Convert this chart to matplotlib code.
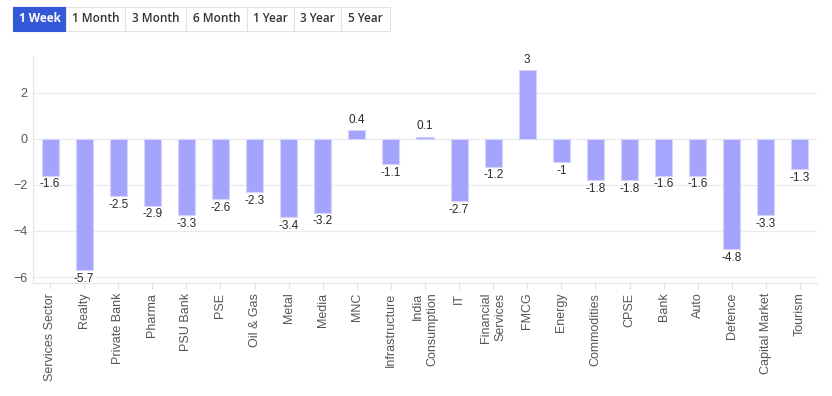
"""Sector index returns, one week."""

import matplotlib.pyplot as plt
from matplotlib.patches import Rectangle

sectors = [
    "Services Sector", "Realty", "Private Bank", "Pharma", "PSU Bank", "PSE",
    "Oil & Gas", "Metal", "Media", "MNC", "Infrastructure", "India\nConsumption",
    "IT", "Financial\nServices", "FMCG", "Energy", "Commodities", "CPSE",
    "Bank", "Auto", "Defence", "Capital Market", "Tourism",
]
returns = [
    -1.6, -5.7, -2.5, -2.9, -3.3, -2.6, -2.3, -3.4, -3.2, 0.4, -1.1, 0.1,
    -2.7, -1.2, 3, -1, -1.8, -1.8, -1.6, -1.6, -4.8, -3.3, -1.3,
]
periods = ["1 Week", "1 Month", "3 Month", "6 Month", "1 Year", "3 Year", "5 Year"]
period_edges = [13, 66, 125, 186, 247, 294, 341, 390]

W, H = 832, 396
fig = plt.figure(figsize=(W / 100, H / 100), dpi=100)
ax = fig.add_axes([33 / W, (H - 283) / H, 784 / W, 227 / H])

x = range(len(sectors))
ax.bar(x, returns, width=0.5, color="#a4a4fc", edgecolor="#d4d4fd", linewidth=0.8, zorder=2)
for i, v in enumerate(returns):
    label = f"{v:g}"
    if v >= 0:
        ax.annotate(label, (i, v), xytext=(0, 3), textcoords="offset points",
                    ha="center", va="bottom", fontsize=8.5, color="#2a2a2a",
                    family="Liberation Sans", zorder=3)
    else:
        ax.annotate(label, (i, v), xytext=(0, -2), textcoords="offset points",
                    ha="center", va="top", fontsize=8.5, color="#2a2a2a",
                    family="Liberation Sans", zorder=3)

ax.set_xlim(-0.5, len(sectors) - 0.5)
ax.set_ylim(-6.26, 3.6)
ax.set_yticks([-6, -4, -2, 0, 2])
ax.set_xticks(list(x))
ax.set_xticklabels(sectors, rotation=90, ha="center", va="top",
                   multialignment="right", family="Liberation Sans",
                   fontsize=9, color="#555555")
for t in ax.get_yticklabels():
    t.set_family("Liberation Sans")
ax.tick_params(axis="y", length=0, labelsize=9, labelcolor="#555555", pad=4)
ax.tick_params(axis="x", length=4, color="#e0e0e0", pad=3)
ax.grid(axis="y", color="#ebebeb", linewidth=0.9, zorder=0)
for s in ["top", "right"]:
    ax.spines[s].set_visible(False)
for s in ["left", "bottom"]:
    ax.spines[s].set_color("#e6e6e6")
    ax.spines[s].set_linewidth(0.9)

# period selector buttons
for i, name in enumerate(periods):
    x0, x1 = period_edges[i], period_edges[i + 1]
    active = i == 0
    fig.patches.append(Rectangle(
        (x0 / W, (H - 31) / H), (x1 - x0) / W, 24 / H,
        transform=fig.transFigure, facecolor="#3558d8" if active else "white",
        edgecolor="#3558d8" if active else "#e2e2e2", linewidth=0.8))
    fig.text((x0 + x1) / 2 / W, (H - 19) / H, name, ha="center", va="center",
             fontsize=8.5, color="white" if active else "#333333",
             weight="bold" if active else "semibold", family="Open Sans")

fig.savefig("out.png", dpi=100)
